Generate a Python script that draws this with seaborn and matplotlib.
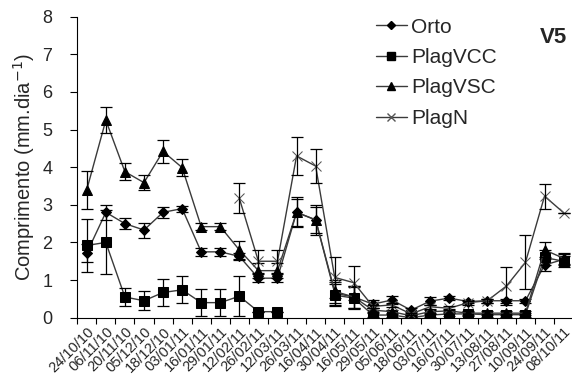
import numpy as np
import pandas as pd
import seaborn as sns
from matplotlib import pyplot as plt
from matplotlib.lines import Line2D

dates = ["24/10/10", "06/11/10", "20/11/10", "05/12/10", "18/12/10", "03/01/11",
         "16/01/11", "29/01/11", "12/02/11", "26/02/11", "12/03/11", "26/03/11",
         "16/04/11", "30/04/11", "16/05/11", "29/05/11", "05/06/11", "18/06/11",
         "03/07/11", "16/07/11", "30/07/11", "13/08/11", "27/08/11", "10/09/11",
         "24/09/11", "08/10/11"]

orto = [1.72, 2.8, 2.5, 2.33, 2.8, 2.9, 1.75, 1.75, 1.63, 1.05, 1.05, 2.8, 2.6,
        0.65, 0.55, 0.36, 0.47, 0.2, 0.44, 0.52, 0.43, 0.45, 0.45, 0.45, 1.4, 1.55]
orto_err = [0.25, 0.2, 0.15, 0.2, 0.15, 0.08, 0.1, 0.1, 0.1, 0.1, 0.1, 0.4, 0.4,
            0.3, 0.3, 0.1, 0.1, 0.05, 0.1, 0.05, 0.05, 0.05, 0.05, 0.05, 0.15, 0.15]

vcc = [1.92, 2.0, 0.55, 0.45, 0.67, 0.74, 0.4, 0.4, 0.57, 0.16, 0.16, None, None,
       0.6, 0.52, 0.07, 0.07, 0.0, 0.07, 0.1, 0.1, 0.08, 0.08, 0.08, 1.6, 1.5]
vcc_err = [0.7, 0.85, 0.25, 0.25, 0.35, 0.36, 0.35, 0.35, 0.53, 0.0, 0.0, 0, 0,
           0.3, 0.3, 0.05, 0.05, 0.02, 0.05, 0.05, 0.05, 0.05, 0.05, 0.05, 0.2, 0.15]

vsc = [3.4, 5.25, 3.88, 3.59, 4.42, 3.99, 2.42, 2.42, 1.8, 1.25, 1.25, 2.8, 2.6,
       0.7, 0.55, 0.2, 0.16, 0.05, 0.16, 0.18, 0.12, 0.12, 0.12, 0.12, 1.8, 1.58]
vsc_err = [0.5, 0.35, 0.22, 0.2, 0.3, 0.22, 0.1, 0.1, 0.25, 0.2, 0.2, 0.35, 0.35,
           0.3, 0.3, 0.05, 0.05, 0.03, 0.05, 0.05, 0.05, 0.05, 0.05, 0.05, 0.2, 0.15]

plagn = [None] * 8 + [3.17, 1.5, 1.5, 4.3, 4.03, 1.07, 0.93, 0.3, 0.34, 0.1, 0.29,
                      0.25, 0.4, 0.45, 0.84, 1.47, 3.23, 2.79]
plagn_err = [0] * 8 + [0.4, 0.3, 0.3, 0.5, 0.45, 0.55, 0.45, 0.05, 0.05, 0.03, 0.05,
                       0.05, 0.05, 0.05, 0.5, 0.72, 0.33, 0.0]

series = {
    "Orto": (orto, orto_err, "D", 5.5),
    "PlagVCC": (vcc, vcc_err, "s", 7),
    "PlagVSC": (vsc, vsc_err, "^", 7),
    "PlagN": (plagn, plagn_err, "x", 7),
}

# long table, with a segment id so gaps are not joined
rows = []
for name, (vals, errs, _, _) in series.items():
    seg = 0
    for i, (v, e) in enumerate(zip(vals, errs)):
        if v is None:
            seg += 1
            continue
        rows.append({"x": i, "value": v, "err": e, "series": name, "seg": seg})
df = pd.DataFrame(rows)

sns.set_style("white")
plt.rcParams["font.family"] = ["Liberation Sans", "DejaVu Sans"]

fig = plt.figure(figsize=(5.72, 3.8), dpi=100)
ax = fig.add_axes([0.135, 0.164, 0.867, 0.792])

line_col = "#3a3a3a"
handles = []
for name, (vals, errs, mk, ms) in series.items():
    d = df[df["series"] == name]
    mcol = "#555555" if mk == "x" else "black"
    sns.lineplot(data=d, x="x", y="value", units="seg", estimator=None,
                 color=line_col, linewidth=1, marker=mk, markersize=ms,
                 markerfacecolor=mcol, markeredgecolor=mcol, ax=ax)
    ax.errorbar(d["x"], d["value"], yerr=d["err"], fmt="none", ecolor="black",
                elinewidth=0.9, capsize=4, capthick=0.9)
    handles.append(Line2D([], [], color=line_col, linewidth=1, marker=mk,
                          markersize=ms - 1, markerfacecolor=mcol,
                          markeredgecolor=mcol, label=name))

ax.set_xlim(-0.5, len(dates) - 0.5)
ax.set_ylim(0, 8)
ax.set_yticks(range(0, 9))
ax.set_xticks(np.arange(-0.5, len(dates), 1))
ax.set_xticklabels([])
ax.set_xticks(np.arange(len(dates)), minor=True)
ax.set_xticklabels(dates, minor=True, rotation=45, ha="right",
                   rotation_mode="anchor", fontsize=10.5)
ax.tick_params(axis="x", which="minor", length=0, pad=5)
ax.tick_params(axis="x", which="major", direction="out", length=4, width=0.8,
               color="black", bottom=True)
ax.tick_params(axis="y", direction="out", length=5, width=0.8, color="black",
               left=True, labelsize=13, pad=13)
ax.set_xlabel("")
ax.set_ylabel("Comprimento (mm.dia$^{-1}$)", fontsize=14.5, labelpad=4)

for s in ["top", "right"]:
    ax.spines[s].set_visible(False)
for s in ["left", "bottom"]:
    ax.spines[s].set_color("black")
    ax.spines[s].set_linewidth(0.8)

ax.legend(handles=handles, loc="upper left", bbox_to_anchor=(0.585, 1.025),
          frameon=False, fontsize=15, handlelength=1.5, handletextpad=0.2,
          labelspacing=0.55, borderaxespad=0)

ax.text(0.988, 0.965, "V5", transform=ax.transAxes, fontsize=16,
        fontweight="bold", ha="right", va="top")

plt.savefig("out.png", dpi=100)
